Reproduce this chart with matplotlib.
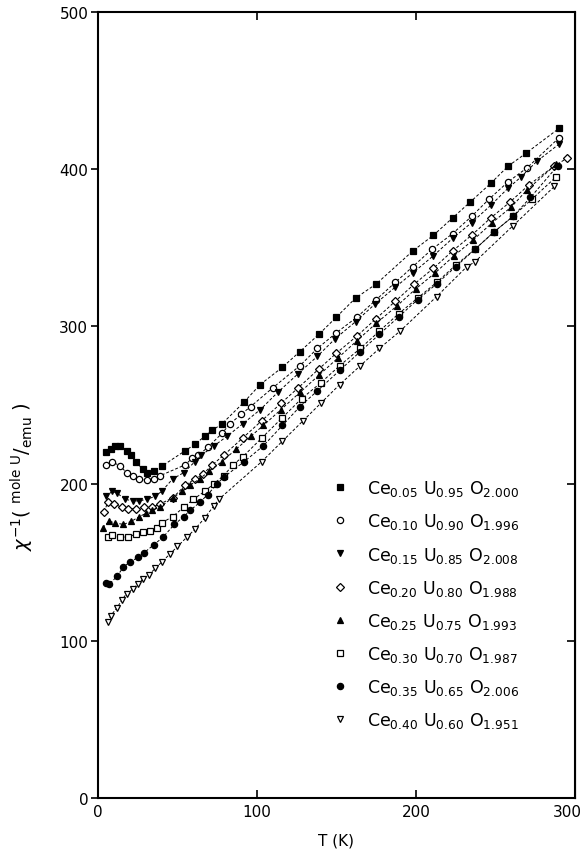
import numpy as np
import matplotlib
matplotlib.use('Agg')
import matplotlib.pyplot as plt
from matplotlib.transforms import ScaledTranslation

# temperature (K) and inverse susceptibility (mole U / emu) per sample
T1 = [5, 8, 11, 14, 18, 21, 24, 28, 31, 35, 40, 55, 61, 67, 72, 78, 92, 102, 116, 127, 139, 150, 162, 175, 198, 211, 223, 234, 247, 258, 269, 290]
y1 = [220, 222, 224, 224, 221, 218, 214, 209, 207, 208, 211, 221, 225, 230, 234, 238, 252, 263, 274, 284, 295, 306, 318, 327, 348, 358, 369, 379, 391, 402, 410, 426]

T2 = [5, 9, 14, 18, 22, 26, 31, 35, 39, 55, 59, 63, 69, 78, 83, 90, 96, 110, 127, 138, 150, 163, 175, 187, 198, 210, 223, 235, 246, 258, 270, 290]
y2 = [212, 214, 211, 207, 205, 203, 202, 203, 205, 212, 216, 218, 223, 232, 238, 244, 249, 261, 275, 286, 296, 306, 317, 328, 338, 349, 359, 370, 381, 392, 401, 420]

T3 = [5, 9, 12, 17, 22, 26, 31, 36, 40, 47, 54, 61, 65, 73, 81, 91, 102, 113, 126, 138, 149, 162, 174, 187, 198, 211, 223, 235, 247, 258, 266, 276, 290]
y3 = [192, 195, 194, 190, 189, 189, 190, 192, 195, 203, 207, 214, 218, 224, 230, 238, 247, 258, 270, 281, 292, 303, 314, 325, 334, 345, 356, 366, 377, 388, 395, 405, 416]

T4 = [4, 6, 10, 15, 19, 24, 29, 34, 39, 47, 55, 61, 66, 72, 79, 91, 103, 115, 126, 139, 150, 163, 175, 187, 199, 211, 223, 235, 247, 259, 271, 287, 295]
y4 = [182, 188, 187, 185, 184, 184, 185, 185, 187, 191, 199, 203, 206, 212, 218, 229, 240, 251, 261, 273, 283, 294, 305, 316, 327, 337, 348, 358, 369, 379, 390, 402, 407]

T5 = [3, 7, 11, 16, 21, 26, 30, 34, 39, 47, 53, 58, 64, 70, 78, 87, 96, 104, 115, 127, 139, 151, 163, 175, 188, 200, 212, 224, 236, 248, 260, 270, 288]
y5 = [172, 176, 175, 174, 176, 179, 181, 183, 185, 191, 195, 199, 203, 208, 214, 222, 230, 237, 247, 258, 269, 280, 291, 302, 313, 324, 334, 345, 355, 366, 376, 387, 403]

T6 = [6, 9, 14, 19, 24, 28, 33, 37, 40, 47, 54, 60, 67, 73, 79, 85, 91, 103, 116, 128, 140, 152, 165, 177, 189, 201, 213, 225, 237, 249, 261, 273, 288]
y6 = [166, 167, 166, 166, 168, 169, 170, 172, 175, 179, 185, 190, 195, 200, 205, 212, 217, 229, 242, 254, 264, 275, 286, 297, 308, 318, 328, 339, 349, 360, 370, 381, 395]

T7 = [5, 7, 12, 16, 20, 25, 29, 35, 41, 48, 54, 58, 64, 69, 75, 79, 92, 104, 116, 127, 138, 152, 165, 177, 189, 201, 213, 225, 237, 249, 261, 272, 289]
y7 = [137, 136, 141, 147, 150, 153, 156, 161, 166, 174, 179, 183, 188, 193, 200, 204, 214, 224, 237, 249, 259, 272, 284, 295, 306, 317, 327, 338, 349, 360, 370, 382, 402]

T8 = [6, 8, 12, 15, 18, 22, 25, 28, 32, 36, 40, 45, 50, 56, 61, 67, 73, 76, 103, 116, 129, 140, 152, 165, 177, 190, 213, 232, 237, 261, 287]
y8 = [112, 116, 121, 126, 130, 133, 136, 139, 142, 146, 150, 155, 160, 166, 171, 178, 186, 190, 214, 227, 240, 251, 263, 275, 286, 297, 319, 338, 341, 364, 389]

labels = [
    r'Ce$_{0.05}$ U$_{0.95}$ O$_{2.000}$',
    r'Ce$_{0.10}$ U$_{0.90}$ O$_{1.996}$',
    r'Ce$_{0.15}$ U$_{0.85}$ O$_{2.008}$',
    r'Ce$_{0.20}$ U$_{0.80}$ O$_{1.988}$',
    r'Ce$_{0.25}$ U$_{0.75}$ O$_{1.993}$',
    r'Ce$_{0.30}$ U$_{0.70}$ O$_{1.987}$',
    r'Ce$_{0.35}$ U$_{0.65}$ O$_{2.006}$',
    r'Ce$_{0.40}$ U$_{0.60}$ O$_{1.951}$',
]
markers = ['s', 'o', 'v', 'D', '^', 's', 'o', 'v']
filled = [True, False, True, False, True, False, True, False]
sizes = [4.5, 4.5, 5, 4, 5, 4.5, 4.5, 5]

series = [(T1, y1), (T2, y2), (T3, y3), (T4, y4), (T5, y5), (T6, y6), (T7, y7), (T8, y8)]

plt.rcParams['font.family'] = 'DejaVu Sans'
plt.rcParams['mathtext.fontset'] = 'dejavusans'
fig = plt.figure(figsize=(5.85, 8.54), dpi=100)
ax = fig.add_axes([0.1675, 0.0644, 0.8154, 0.9204])

for (t, y), lab, m, f, s in zip(series, labels, markers, filled, sizes):
    ax.plot(t, y, ls=(0, (3, 2)), lw=0.7, color='black',
            marker=m, ms=s, mec='black', mew=0.9,
            mfc='black' if f else 'white', label=lab)

ax.set_xlim(0, 300)
ax.set_ylim(0, 500)
ax.set_xticks([0, 100, 200, 300])
ax.set_yticks([0, 100, 200, 300, 400, 500])
ax.tick_params(axis='x', direction='in', length=6, width=1.2, labelsize=11, pad=4, top=True)
ax.tick_params(axis='y', direction='out', length=5, width=1.2, labelsize=11, pad=2)
ax.tick_params(axis='y', which='both', right=False)
ax.secondary_yaxis('right').tick_params(direction='in', length=6, width=1.2, labelright=False)
for sp in ax.spines.values():
    sp.set_linewidth(1.5)

# last x tick label pulled left so it stays inside the figure
last = ax.get_xticklabels()[-1]
last.set_transform(last.get_transform() + ScaledTranslation(-0.08, 0, fig.dpi_scale_trans))

ax.set_xlabel('T (K)', fontsize=11, labelpad=10)
ax.set_ylabel(r'$\chi^{-1}$( $^{\mathrm{mole\ U}}/_{\mathrm{emu}}$ )', fontsize=14)
ax.yaxis.set_label_coords(-0.13, 0.41)

leg = ax.legend(loc='upper left', bbox_to_anchor=(0.47, 0.418), frameon=False,
                fontsize=12.5, handlelength=1.0, handletextpad=1.1,
                labelspacing=0.76, borderpad=0)
for h in leg.legend_handles:
    h.set_linestyle('none')

fig.savefig('out.png', dpi=100)
